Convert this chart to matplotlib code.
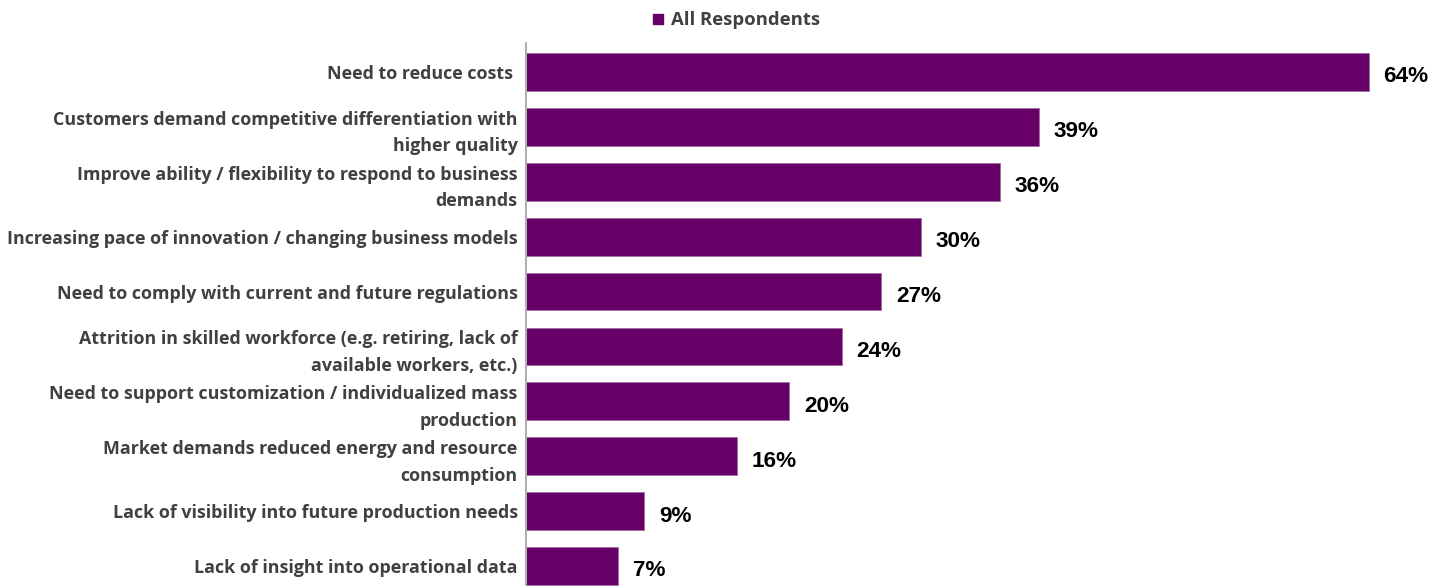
import matplotlib
matplotlib.use("Agg")
import matplotlib.pyplot as plt
from matplotlib.patches import Rectangle

categories = [
    "Need to reduce costs ",
    "Customers demand competitive differentiation with\nhigher quality",
    "Improve ability / flexibility to respond to business\ndemands",
    "Increasing pace of innovation / changing business models",
    "Need to comply with current and future regulations",
    "Attrition in skilled workforce (e.g. retiring, lack of\navailable workers, etc.)",
    "Need to support customization / individualized mass\nproduction",
    "Market demands reduced energy and resource\nconsumption",
    "Lack of visibility into future production needs",
    "Lack of insight into operational data",
]
values = [64, 39, 36, 30, 27, 24, 20, 16, 9, 7]
series_name = "All Respondents"

W, H = 1445, 586
fig = plt.figure(figsize=(W / 100, H / 100), dpi=100)
ax = fig.add_axes([526 / W, 0, 1 - 526 / W, (586 - 43) / H])

color = "#660066"
y = list(range(len(values)))
ax.barh(y, values, height=0.69, color=color, edgecolor="#a070a0", linewidth=0.6)
ax.set_ylim(9.364, -0.528)
ax.set_xlim(0, 69.8)

for yi, v in zip(y, values):
    ax.text(v + 1.1, yi + 0.09, f"{v}%", va="center", ha="left",
            fontsize=16.2, fontweight="bold", family="Liberation Sans", color="black")

ax.set_yticks(y)
ax.set_yticklabels(categories, fontsize=12.9, fontweight="bold", family="Open Sans",
                   color="#404040", linespacing=1.6)
ax.tick_params(axis="y", length=0, pad=6)
ax.set_xticks([])
for s in ["top", "right", "bottom"]:
    ax.spines[s].set_visible(False)
ax.spines["left"].set_color("#b0b0b0")
ax.spines["left"].set_linewidth(1.5)

# legend
fig.patches.append(Rectangle((653 / W, 1 - 24 / H), 10 / W, 10 / H, transform=fig.transFigure,
                             color=color))
fig.text(671 / W, 1 - 20 / H, series_name, ha="left", va="center", fontsize=13.3,
         fontweight="bold", family="Open Sans", color="#404040")

fig.savefig("out.png", dpi=100)
